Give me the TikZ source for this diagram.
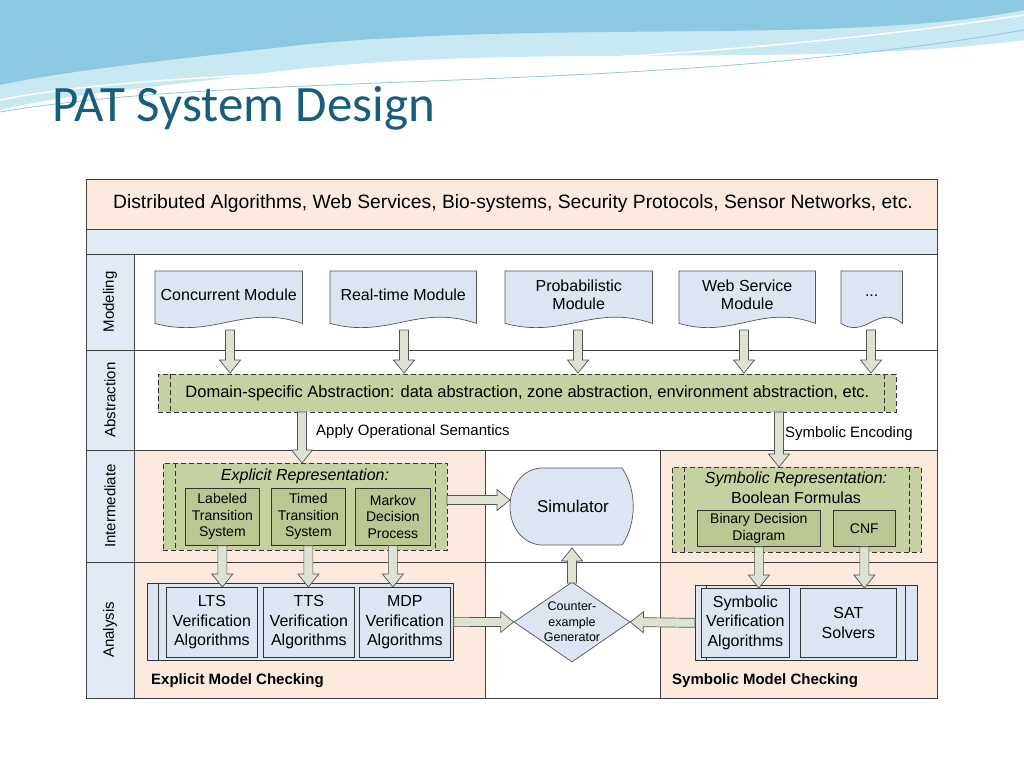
\documentclass[tikz,border=0pt]{standalone}
\usepackage{fontspec}
\setmainfont{Liberation Sans}
\newfontfamily\titlefont{Carlito}
\usetikzlibrary{calc,shapes.geometric}
\definecolor{peach}{RGB}{252,234,222}
\definecolor{rowblue}{RGB}{226,234,246}
\definecolor{docblue}{RGB}{221,228,242}
\definecolor{grn}{RGB}{198,209,162}
\definecolor{grn2}{RGB}{186,199,146}
\definecolor{arrfill}{RGB}{222,226,208}
\definecolor{arrline}{RGB}{85,85,85}
\definecolor{ttl}{RGB}{23,94,125}
\definecolor{wave1}{RGB}{140,200,225}
\definecolor{wave2}{RGB}{200,232,242}
\tikzset{
  arr/.style={draw=arrline, fill=arrfill, line width=0.7pt, line join=miter},
  doc/.style={draw=arrline, fill=docblue, line width=0.7pt},
  docn/.style={inner sep=0pt, font=\fontsize{16}{18}\selectfont, align=center},
  dbox/.style={draw=black!80, fill=grn, dash pattern=on 5pt off 3pt, line width=0.8pt},
  dline/.style={draw=black!80, dash pattern=on 5pt off 3pt, line width=0.8pt},
  sub/.style={draw=black!80, fill=grn2, line width=0.7pt, inner sep=0pt, align=center, font=\fontsize{14}{16.5}\selectfont},
  vbox/.style={draw=black!80, fill=docblue, line width=0.7pt, inner sep=0pt, align=center, font=\fontsize{16}{19.5}\selectfont},
  rowlab/.style={rotate=90, font=\fontsize{15}{17}\selectfont},
  lbl/.style={font=\fontsize{15}{17}\selectfont, anchor=west, inner sep=0pt},
  grid/.style={draw=black!75, line width=0.8pt}
}
\newcommand{\fatarr}[2]{%
  \coordinate (fa-h) at ($(#2)!13pt!(#1)$);
  \draw[arr] ($(#1)!4.5pt!90:(#2)$) -- ($(fa-h)!4.5pt!-90:(#1)$) -- ($(fa-h)!10.5pt!-90:(#1)$) -- (#2) -- ($(fa-h)!10.5pt!90:(#1)$) -- ($(fa-h)!4.5pt!90:(#1)$) -- ($(#1)!4.5pt!-90:(#2)$) -- cycle;}
\newcommand{\docshape}[5]{% name, x1, x2, y-top, text
  \node[docn, minimum width={#3-#2}, minimum height=48, anchor=north west] (#1) at (#2,#4) {#5};
  \draw[doc] (#1.north west) -- (#1.north east) -- ($(#1.south east)+(0,4)$)
    .. controls ($(#1.south west)!0.6!(#1.south east)+(0,-16)$) and ($(#1.south west)!0.4!(#1.south east)+(0,20)$) .. ($(#1.south west)+(0,4)$) -- cycle;
  \node[docn, minimum width={#3-#2}, minimum height=48, anchor=north west] at (#2,#4) {#5};}
\begin{document}
\begin{tikzpicture}[x=1pt,y=-1pt]
\useasboundingbox (0,0) rectangle (1024,768);
% banner
\fill[wave2] (0,0) -- (1024,0) -- (1024,40) .. controls (800,70) and (500,40) .. (250,75) .. controls (150,88) and (60,95) .. (0,110) -- cycle;
\fill[wave1] (0,0) -- (1024,0) -- (1024,10) .. controls (850,45) and (550,20) .. (300,45) .. controls (170,60) and (70,70) .. (0,85) -- cycle;
\draw[white, line width=1.5pt] (0,100) .. controls (200,60) and (600,80) .. (1024,15);
\draw[wave1, line width=0.8pt] (0,112) .. controls (250,70) and (650,95) .. (1024,30);
\node[anchor=west, text=ttl, font=\titlefont\fontsize{51}{56}\selectfont, inner sep=0pt] (title) at (52,108) {PAT System Design};
% bands
\fill[peach] (86,179) rectangle (937,229);
\fill[rowblue] (86,229) rectangle (937,254);
\fill[rowblue] (86,254) rectangle (134,698);
\fill[peach] (134,450) rectangle (485,698);
\fill[peach] (660,450) rectangle (937,698);
\draw[grid] (86,179) rectangle (937,698);
\draw[grid] (86,229) -- (937,229) (86,254) -- (937,254) (86,350) -- (937,350) (86,450) -- (937,450) (86,562) -- (937,562);
\draw[grid] (134,254) -- (134,698) (485,450) -- (485,698) (660,450) -- (660,698);
\node[font=\fontsize{19.3}{22}\selectfont] (top) at (513,204) {Distributed Algorithms, Web Services, Bio-systems, Security Protocols, Sensor Networks, etc.};
\node[rowlab] (rmod) at (110,302) {Modeling};
\node[rowlab] (rabs) at (110,400) {Abstraction};
\node[rowlab] (rint) at (110,506) {Intermediate};
\node[rowlab] (rana) at (110,630) {Analysis};
% documents
\docshape{d1}{155}{302}{271}{Concurrent Module}
\docshape{d2}{330}{476}{271}{Real-time Module}
\docshape{d3}{505}{652}{271}{Probabilistic\\Module}
\docshape{d4}{679}{815}{271}{Web Service\\Module}
\docshape{d5}{841}{902}{271}{...}
% abstraction
\node[dbox, minimum width=738, minimum height=38, anchor=north west, inner sep=0pt] (abs) at (158,374) {};
\draw[dline] (170,374) -- (170,412) (884,374) -- (884,412);
\node[font=\fontsize{16.5}{18}\selectfont] at (abs) {Domain-specific Abstraction: data abstraction, zone abstraction, environment abstraction, etc.};
\foreach \d/\x in {d1/230,d2/404,d3/578,d4/744,d5/871}{
  \coordinate (s-\d) at (\x,330); \coordinate (e-\d) at (\x,373);
  \fatarr{s-\d}{e-\d}}
% explicit representation
\node[dbox, minimum width=284, minimum height=87, anchor=north west, inner sep=0pt] (exp) at (163,463) {};
\draw[dline] (175,463) -- (175,550) (435,463) -- (435,550);
\node[font=\itshape\fontsize{16}{18}\selectfont] (expt) at (305,476) {Explicit Representation:};
\node[sub, minimum width=74, minimum height=57, anchor=north west] (lts) at (185,488) {Labeled\\Transition\\System};
\node[sub, minimum width=74, minimum height=57, anchor=north west] (tts) at (271,488) {Timed\\Transition\\System};
\node[sub, minimum width=75, minimum height=57, anchor=north west] (mdp) at (355,488) {Markov\\Decision\\Process};
% symbolic representation
\node[dbox, minimum width=249, minimum height=85, anchor=north west, inner sep=0pt] (sym) at (672,467) {};
\draw[dline] (684,467) -- (684,552) (909,467) -- (909,552);
\node[font=\itshape\fontsize{16}{18}\selectfont] (symt) at (796,479) {Symbolic Representation:};
\node[font=\fontsize{16}{18}\selectfont] (boo) at (796,498) {Boolean Formulas};
\node[sub, minimum width=123, minimum height=36, anchor=north west] (bdd) at (697,510) {Binary Decision\\Diagram};
\node[sub, minimum width=62, minimum height=36, anchor=north west] (cnf) at (833,510) {CNF};
% arrows abstraction -> representations
\coordinate (a1) at (302,412); \coordinate (a2) at (302,463);
\fatarr{a1}{a2}
\coordinate (b1) at (779,412); \coordinate (b2) at (779,467);
\fatarr{b1}{b2}
\node[lbl] (aos) at (316,432) {Apply Operational Semantics};
\node[lbl] (senc) at (785,434) {Symbolic Encoding};
% simulator
\node[inner sep=0pt, minimum width=125, minimum height=77, anchor=north west] (simb) at (510,468) {};
\draw[doc] (540,468) -- (622,468) .. controls (637,490) and (637,523) .. (622,545) -- (540,545) .. controls (500,540) and (500,473) .. (540,468) -- cycle;
\node[font=\fontsize{17}{19}\selectfont] (sim) at (573,506) {Simulator};
\coordinate (x1) at (447,500); \coordinate (x2) at (510,500);
\fatarr{x1}{x2}
% diamond
\node[diamond, aspect=1.45, draw=arrline, fill=docblue, line width=0.7pt, minimum width=116, minimum height=80, inner sep=0pt, align=center, font=\fontsize{12.5}{15.5}\selectfont] (ce) at (572,622) {Counter-\\example\\Generator};
\coordinate (c1) at (572,583); \coordinate (c2) at (572,548);
\fatarr{c1}{c2}
% explicit analysis
\node[vbox, minimum width=306, minimum height=77, anchor=north west] (ea) at (147,583) {};
\draw[black!80, line width=0.7pt] (158,583) -- (158,660);
\node[vbox, minimum width=91, minimum height=70, anchor=north west] (ltsv) at (166,587) {LTS\\Verification\\Algorithms};
\node[vbox, minimum width=91, minimum height=70, anchor=north west] (ttsv) at (263,587) {TTS\\Verification\\Algorithms};
\node[vbox, minimum width=91, minimum height=70, anchor=north west] (mdpv) at (359,587) {MDP\\Verification\\Algorithms};
\fatarr{lts.south}{ltsv.north -| lts.south}
\fatarr{tts.south}{ttsv.north -| tts.south}
\fatarr{mdp.south}{mdpv.north -| mdp.south}
\fatarr{ea.east}{ce.west}
% symbolic analysis
\node[vbox, minimum width=222, minimum height=75, anchor=north west] (sa) at (695,585) {};
\draw[black!80, line width=0.7pt] (706,585) -- (706,660) (905,585) -- (905,660);
\node[vbox, minimum width=88, minimum height=69, anchor=north west] (symv) at (701,588) {Symbolic\\Verification\\Algorithms};
\node[vbox, minimum width=96, minimum height=69, anchor=north west] (sat) at (800,588) {SAT\\Solvers};
\fatarr{bdd.south}{symv.north -| bdd.south}
\fatarr{cnf.south}{sat.north -| cnf.south}
\fatarr{sa.west}{ce.east}
\node[lbl, font=\bfseries\fontsize{15}{17}\selectfont] (emc) at (151,681) {Explicit Model Checking};
\node[lbl, font=\bfseries\fontsize{15}{17}\selectfont] (smc) at (672,681) {Symbolic Model Checking};
\end{tikzpicture}
\end{document}
